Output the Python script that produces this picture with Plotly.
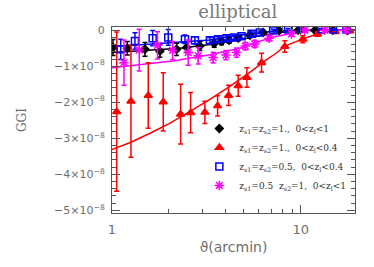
import plotly.graph_objects as go

SCALE = 1e-8

# black diamonds: z_s1=z_s2=1., 0<z_l<1
black_theta = [1.012, 1.205, 1.495, 1.795, 2.199, 2.485, 2.922, 3.477, 3.805, 4.174, 4.66, 5.373, 6.318, 7.677, 9.676, 11.86, 14.77, 17.73]
black_ggi = [-0.48, -0.50, -0.53, -0.58, -0.53, -0.48, -0.44, -0.37, -0.31, -0.28, -0.22, -0.14, -0.06, -0.01, 0.0, 0.0, 0.0, 0.0]
black_err = [0.22, 0.19, 0.19, 0.17, 0.17, 0.14, 0.12, 0.10, 0.09, 0.08, 0.07, 0.06, 0.05, 0.04, 0.03, 0.03, 0.02, 0.02]

# red triangles: z_s1=z_s2=1., 0<z_l<0.4
red_theta = [1.059, 1.26, 1.556, 1.868, 2.309, 2.609, 3.105, 3.625, 4.145, 4.66, 5.18, 6.196, 8.228, 10.25, 12.26, 15.22, 18.17]
red_ggi = [-2.26, -1.97, -1.81, -1.99, -2.33, -2.29, -2.28, -2.10, -1.81, -1.54, -1.31, -0.90, -0.45, -0.25, -0.11, -0.04, -0.02]
red_err = [2.21, 1.56, 0.91, 0.81, 0.83, 0.56, 0.31, 0.28, 0.28, 0.29, 0.27, 0.26, 0.16, 0.10, 0.06, 0.04, 0.03]

# blue squares: z_s1=z_s2=0.5, 0<z_l<0.4
blue_theta = [1.112, 1.323, 1.642, 1.986, 2.434, 2.749, 3.301, 3.651, 4.045, 4.437, 4.856, 5.486, 6.069, 7.137, 8.568, 10.09, 12.87, 14.82, 17.45]
blue_ggi = [-0.53, -0.30, -0.22, -0.20, -0.25, -0.28, -0.28, -0.25, -0.22, -0.20, -0.17, -0.10, -0.06, -0.01, 0.02, 0.04, 0.03, 0.02, 0.02]
blue_err = [0.28, 0.23, 0.21, 0.22, 0.12, 0.10, 0.08, 0.07, 0.06, 0.06, 0.05, 0.05, 0.04, 0.04, 0.03, 0.03, 0.02, 0.02, 0.02]

# magenta asterisks: z_s1=0.5 z_s2=1, 0<z_l<1
mag_theta = [1.157, 1.394, 1.741, 2.095, 2.533, 2.862, 3.436, 4.011, 4.569, 5.086, 5.708, 6.797, 8.929, 10.5, 13.4, 17.45]
mag_ggi = [-0.90, -0.55, -0.42, -0.56, -0.62, -0.71, -0.76, -0.69, -0.62, -0.44, -0.38, -0.22, -0.10, 0.0, 0.0, 0.0]
mag_err = [0.63, 0.58, 0.38, 0.25, 0.35, 0.23, 0.15, 0.13, 0.13, 0.10, 0.10, 0.08, 0.06, 0.04, 0.03, 0.02]

# model curves
red_fit_theta = [1.00, 1.26, 1.59, 2.03, 2.59, 3.30, 4.21, 5.37, 6.44, 7.30, 8.25, 10.25, 12.3, 15.1, 20.0]
red_fit = [-3.31, -3.11, -2.86, -2.58, -2.25, -1.92, -1.56, -1.17, -0.85, -0.66, -0.44, -0.24, -0.10, -0.01, 0.0]
black_fit_theta = [1.00, 2.29, 3.73, 5.37, 7.28, 9.88, 20.0]
black_fit = [-0.62, -0.50, -0.36, -0.21, -0.08, -0.01, 0.0]
blue_fit_theta = [1.00, 2.15, 3.30, 5.05, 7.28, 9.88, 20.0]
blue_fit = [-0.46, -0.34, -0.27, -0.12, -0.02, 0.0, 0.0]
mag_fit_theta = [1.00, 2.15, 3.30, 4.75, 7.10, 8.75, 11.2, 20.0]
mag_fit = [-1.04, -0.85, -0.68, -0.50, -0.19, -0.10, 0.0, 0.0]

y_tickvals = [0, -1, -2, -3, -4, -5]
y_ticktext = ["0", "−1×10<sup>−8</sup>", "−2×10<sup>−8</sup>", "−3×10<sup>−8</sup>",
              "−4×10<sup>−8</sup>", "−5×10<sup>−8</sup>"]
x_tickvals = [1, 10]
x_ticktext = ["1", "10"]
x_minor = [2, 3, 4, 5, 6, 7, 8, 9, 20]

names = [
    "z<sub>s1</sub>=z<sub>s2</sub>=1.,  0<z<sub>l</sub><1",
    "z<sub>s1</sub>=z<sub>s2</sub>=1.,  0<z<sub>l</sub><0.4",
    "z<sub>s1</sub>=z<sub>s2</sub>=0.5,  0<z<sub>l</sub><0.4",
    "z<sub>s1</sub>=0.5  z<sub>s2</sub>=1,  0<z<sub>l</sub><1",
]

def sc(v):
    return [a * SCALE for a in v]

fig = go.Figure()

# fit lines
for th, f, col in [(black_fit_theta, black_fit, "black"), (red_fit_theta, red_fit, "#ff0000"),
                   (blue_fit_theta, blue_fit, "#0000ff"), (mag_fit_theta, mag_fit, "#ff00ff")]:
    fig.add_trace(go.Scatter(x=th, y=sc(f), mode="lines", line=dict(color=col, width=1.5),
                             showlegend=False, hoverinfo="skip"))

series = [
    (black_theta, black_ggi, black_err, "black", "diamond", 6, names[0]),
    (red_theta, red_ggi, red_err, "#ff0000", "triangle-up", 7, names[1]),
    (blue_theta, blue_ggi, blue_err, "#0000ff", "square-open", 7, names[2]),
    (mag_theta, mag_ggi, mag_err, "#ff00ff", "asterisk-open", 8, names[3]),
]
for th, g, e, col, sym, sz, nm in series:
    fig.add_trace(go.Scatter(
        x=th, y=sc(g), mode="markers", name=nm,
        marker=dict(symbol=sym, size=sz, color=col, line=dict(color=col, width=1.5)),
        error_y=dict(type="data", array=sc(e), visible=True, color=col, thickness=1.5, width=2.5),
    ))

axis_col = "#555555"
lab_col = "#6e6e6e"
fig.update_layout(
    width=374, height=267,
    margin=dict(l=112, r=19, t=27, b=54),
    paper_bgcolor="white", plot_bgcolor="white",
    title=dict(text="elliptical", x=0.636, xanchor="center", y=0.955, yanchor="middle",
               font=dict(family="DejaVu Serif", size=18, color="#7a7a7a")),
    legend=dict(x=0.985, xanchor="right", y=0.07, yanchor="bottom",
                bgcolor="rgba(0,0,0,0)", font=dict(family="DejaVu Serif", size=9, color="#333333"),
                itemwidth=30, tracegroupgap=0),
    showlegend=True,
)
fig.update_xaxes(
    type="log", range=[0, 1.287],
    tickvals=x_tickvals, ticktext=x_ticktext,
    ticks="inside", ticklen=8, tickcolor=axis_col, tickwidth=1,
    showline=True, linecolor=axis_col, linewidth=1, mirror="allticks",
    showgrid=False, zeroline=False,
    tickfont=dict(family="DejaVu Sans", size=13, color=lab_col),
    ticklabelstandoff=4,
    minor=dict(tickvals=x_minor, ticks="inside", ticklen=4, tickcolor=axis_col, showgrid=False),
    title=dict(text="ϑ(arcmin)", font=dict(family="DejaVu Sans", size=14, color=lab_col), standoff=6),
)
fig.update_yaxes(
    range=[-5.075e-8, 0.09e-8],
    tickvals=[v * SCALE for v in y_tickvals], ticktext=y_ticktext,
    ticks="inside", ticklen=8, tickcolor=axis_col, tickwidth=1,
    showline=True, linecolor=axis_col, linewidth=1, mirror="allticks",
    showgrid=False, zeroline=False,
    tickfont=dict(family="DejaVu Sans", size=11, color=lab_col),
    ticklabelstandoff=4,
    minor=dict(dtick=0.2e-8, ticks="inside", ticklen=4, tickcolor=axis_col, showgrid=False),
    title=dict(text="GGI", font=dict(family="DejaVu Serif", size=12, color=lab_col), standoff=24),
)

# remove the default 8px page margin so the figure fills the window exactly
fig.write_html("out.html", config={"displayModeBar": False},
               post_script="document.body.style.margin='0px';")
